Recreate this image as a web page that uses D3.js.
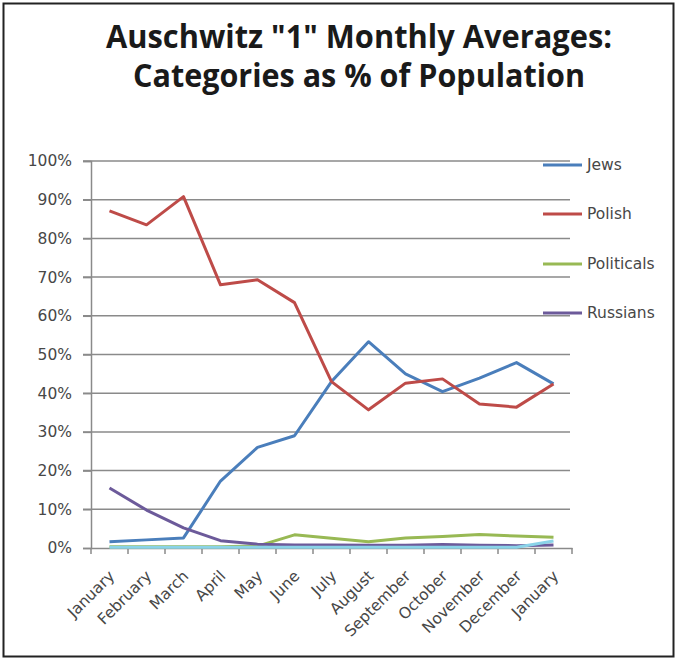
<!DOCTYPE html>
<html><head><meta charset="utf-8">
<script src="https://cdn.jsdelivr.net/npm/d3@7"></script>
<style>html,body{margin:0;padding:0;background:#fff;}svg{display:block;}</style>
</head><body>
<svg id="chart" width="678" height="660"></svg>
<script>
const months = ["January","February","March","April","May","June","July","August","September","October","November","December","January"];
const jews       = [1.6, 2.1, 2.6, 17.3, 26, 29, 43, 53.3, 45, 40.4, 43.9, 47.9, 42.4];
const polish     = [87.1, 83.5, 90.8, 68, 69.3, 63.4, 43, 35.7, 42.6, 43.7, 37.2, 36.4, 42.4];
const politicals = [0.3, 0.3, 0.3, 0.3, 0.5, 3.4, 2.5, 1.6, 2.6, 3.0, 3.5, 3.1, 2.8];
const russians   = [15.5, 9.8, 5.2, 1.9, 1.0, 0.8, 0.8, 0.7, 0.7, 0.9, 0.7, 0.6, 0.8];
const other      = [0.2, 0.2, 0.2, 0.2, 0.2, 0.2, 0.2, 0.2, 0.2, 0.2, 0.2, 0.2, 1.8];
const yTicks = [0,10,20,30,40,50,60,70,80,90,100];
const seriesNames = ["Jews","Polish","Politicals","Russians"];

const series = [
  {name:"Jews", values:jews, color:"#4A7EBB", legend:true},
  {name:"Polish", values:polish, color:"#BE4B48", legend:true},
  {name:"Politicals", values:politicals, color:"#98B954", legend:true},
  {name:"Russians", values:russians, color:"#6C5A9A", legend:true},
  {name:"Other", values:other, color:"#8AD3E8", legend:false}
];

const svg = d3.select("#chart");
svg.append("rect").attr("x",0).attr("y",0).attr("width",678).attr("height",660).attr("fill","#fff");
svg.append("rect").attr("x",3.5).attr("y",3.5).attr("width",670).attr("height",653)
  .attr("fill","none").attr("stroke","#222").attr("stroke-width",2);

// Title
const tfont = "'Open Sans', sans-serif";
svg.append("text").attr("x",359).attr("y",48).attr("text-anchor","middle")
  .attr("font-family",tfont).attr("font-weight","bold").attr("font-size",32)
  .attr("fill","#1a1a1a").attr("textLength",506).attr("lengthAdjust","spacingAndGlyphs")
  .text('Auschwitz "1" Monthly Averages:');
svg.append("text").attr("x",359).attr("y",87).attr("text-anchor","middle")
  .attr("font-family",tfont).attr("font-weight","bold").attr("font-size",32)
  .attr("fill","#1a1a1a").attr("textLength",452).attr("lengthAdjust","spacingAndGlyphs")
  .text("Categories as % of Population");

const pLeft = 91, pRight = 572, pTop = 161, pBottom = 548;
const x = d3.scaleBand().domain(d3.range(months.length)).range([pLeft,pRight]);
const y = d3.scaleLinear().domain([0,100]).range([pBottom,pTop]);
const lfont = "'DejaVu Sans', sans-serif";
const gray = "#8a8a8a";
const txt = "#474747";

// gridlines
svg.append("g").selectAll("line").data(yTicks.filter(d=>d>0)).join("line")
  .attr("x1",pLeft-8).attr("x2",pRight-2).attr("y1",d=>y(d)).attr("y2",d=>y(d))
  .attr("stroke",gray).attr("stroke-width",1.5);

// y axis
const yAxis = svg.append("g").attr("transform",`translate(${pLeft},0)`)
  .call(d3.axisLeft(y).tickValues(yTicks).tickFormat(d=>d+"%").tickSize(8).tickPadding(11));
yAxis.select(".domain").attr("stroke",gray).attr("stroke-width",1.5);
yAxis.selectAll(".tick line").attr("stroke",gray).attr("stroke-width",1.5);
yAxis.selectAll("text").attr("font-family",lfont).attr("font-size",15.5).attr("fill",txt);

// x axis
const xAxis = svg.append("g").attr("transform",`translate(0,${pBottom})`)
  .call(d3.axisBottom(x).tickFormat(i=>months[i]).tickSize(0));
xAxis.select(".domain").attr("stroke",gray).attr("stroke-width",1.5);
xAxis.selectAll(".tick text").attr("font-family",lfont).attr("font-size",15.5).attr("fill",txt)
  .attr("text-anchor","end").attr("y",0).attr("dy",0)
  .attr("transform","translate(6,29) rotate(-45)");
// boundary ticks
svg.append("g").selectAll("line").data(d3.range(months.length+1)).join("line")
  .attr("x1",i=>pLeft + i*x.step()).attr("x2",i=>pLeft + i*x.step())
  .attr("y1",pBottom).attr("y2",pBottom+6).attr("stroke",gray).attr("stroke-width",1.5);

// lines
const line = d3.line().x((d,i)=>x(i)+x.bandwidth()/2).y(d=>y(d));
series.forEach(s=>{
  svg.append("path").datum(s.values).attr("d",line).attr("fill","none")
    .attr("stroke",s.color).attr("stroke-width",3).attr("stroke-linejoin","round");
});

// legend
const legY = [165,214,264,313];
series.filter(s=>s.legend).forEach((s,i)=>{
  svg.append("line").attr("x1",543).attr("x2",582).attr("y1",legY[i]).attr("y2",legY[i])
    .attr("stroke",s.color).attr("stroke-width",3);
  svg.append("text").attr("x",587).attr("y",legY[i]).attr("dy","0.35em")
    .attr("font-family",lfont).attr("font-size",15.5).attr("fill",txt).text(seriesNames[i]);
});
</script>
</body></html>
